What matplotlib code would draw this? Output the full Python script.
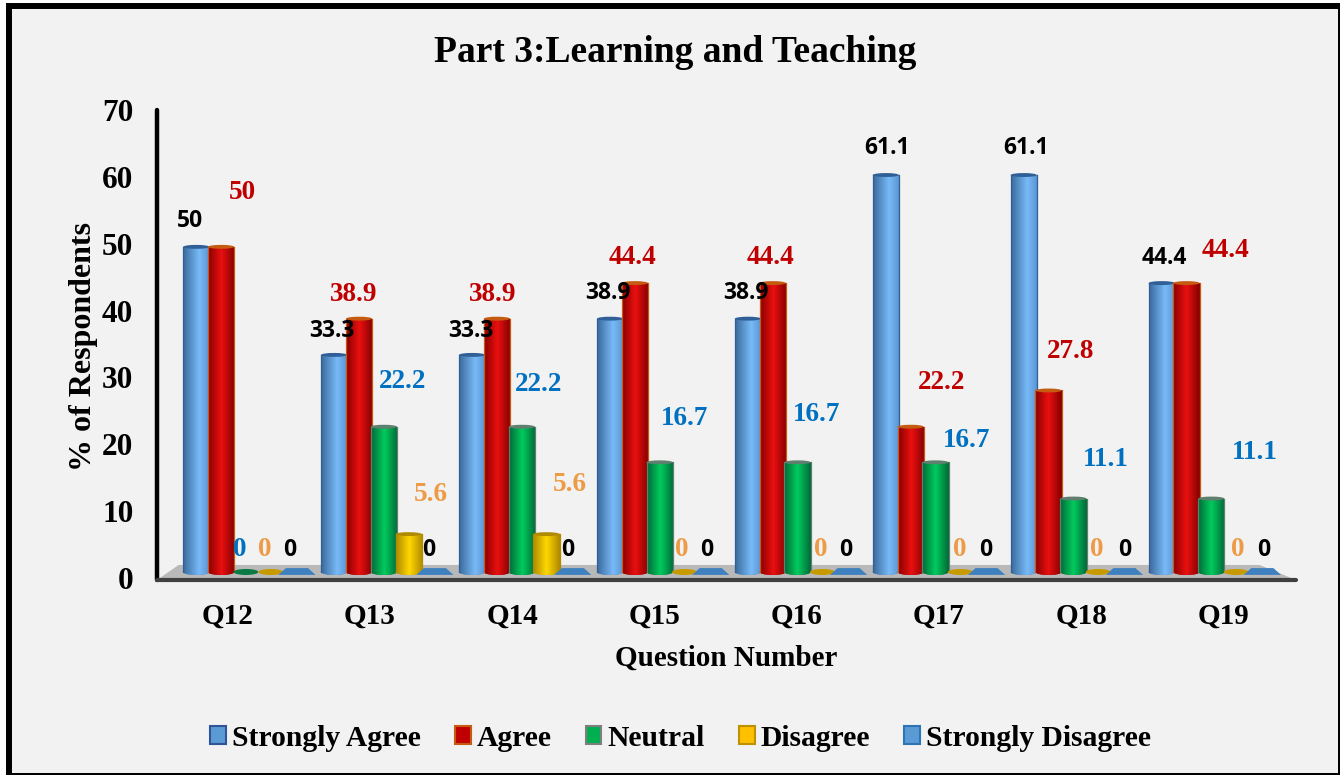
import numpy as np
import matplotlib
matplotlib.use('Agg')
import matplotlib.pyplot as plt
from matplotlib.colors import LinearSegmentedColormap
from matplotlib.patches import Ellipse, Patch, Polygon, Rectangle

questions = ['Q12', 'Q13', 'Q14', 'Q15', 'Q16', 'Q17', 'Q18', 'Q19']
series_names = ['Strongly Agree', 'Agree', 'Neutral', 'Disagree', 'Strongly Disagree']

strongly_agree = [50, 33.3, 33.3, 38.9, 38.9, 61.1, 61.1, 44.4]
agree = [50, 38.9, 38.9, 44.4, 44.4, 22.2, 27.8, 44.4]
neutral = [0, 22.2, 22.2, 16.7, 16.7, 16.7, 11.1, 11.1]
disagree = [0, 5.6, 5.6, 0, 0, 0, 0, 0]
strongly_disagree = [0, 0, 0, 0, 0, 0, 0, 0]
series_values = [strongly_agree, agree, neutral, disagree, strongly_disagree]
y_labels = ['0', '10', '20', '30', '40', '50', '60', '70']

# stops of each cylinder, left to right
gradients = [[(0, '#3a6a9c'), (0.6, '#78baf8'), (1, '#5a93d0')],
             [(0, '#8a0000'), (0.5, '#ea1010'), (1, '#840000')],
             [(0, '#006a38'), (0.5, '#00cc5e'), (1, '#006a38')],
             [(0, '#b08a00'), (0.5, '#ffd800'), (1, '#b08a00')]]
flat_colors = ['#4a86c8', '#c00000', '#0b7a45', '#c79a00', '#3f80bf']
top_colors = ['#2f5f96', '#c55a11', '#5f7f6f', '#b08a00']
legend_faces = ['#5b9bd5', '#c00000', '#00b050', '#ffc000', '#5b9bd5']
legend_edges = ['#2f5597', '#c55a11', '#7f7f7f', '#bf9000', '#2e75b6']

# data labels sit by hand in the original, so each one has its own offset (pixels)
label_colors = ['black', '#c00000', '#0070c0', '#ed9b47', 'black']
label_dx = [[-6, -2, -1, -2, -2, 1, 2, 3],
            [21, -5, -4, -2, -2, 31, 22, 39],
            [-6, 19, 17, 25, 19, 31, 32, 43],
            [-6, 22, 23, -3, -2, -1, -1, 2],
            [-7, -6, -5, -4, -3, -1, 0, 1]]
label_dy = [[27.5, 25.5, 25.5, 27, 27, 29, 29, 27],
            [55.5, 26, 26, 27, 27, 46, 41, 34],
            [22, 47, 44, 45, 49, 23, 41, 48],
            [22, 41, 51, 22, 22, 22, 22, 22],
            [22, 22, 22, 22, 22, 22, 22, 22]]

SERIF = 'Liberation Serif'
SANS = 'Open Sans'
W, H = 1340, 775
bar_width = 0.19
pitch = 0.18
cap = 0.93

fig = plt.figure(figsize=(W / 100, H / 100), dpi=100, facecolor='white')
# right and bottom edges of the frame are cropped in the original
fig.add_artist(Rectangle((9 / W, 1 - 776 / H), 1332 / W, 770 / H, transform=fig.transFigure,
                         facecolor='#f2f2f2', edgecolor='black', linewidth=4.3, zorder=-1))

ax = fig.add_axes([157 / W, 1 - 580 / H, 1139 / W, 470 / H])
ax.patch.set_alpha(0)

# floor of the 3D chart
ax.add_patch(Polygon([(0, 0), (0.019, 0.032), (0.968, 0.032), (1, 0)], transform=ax.transAxes,
                     facecolor='#b9b9b9', edgecolor='none', zorder=1))

x = np.arange(len(questions))
for s, values in enumerate(series_values):
    xs = x + (s - 2) * pitch
    if s == 4:
        xs = xs + 0.01
    z = 2 + s
    if s < 4:
        cmap = LinearSegmentedColormap.from_list('cyl', gradients[s])
        ax.bar(xs, values, bar_width, color=flat_colors[s], zorder=z)
    for xc, v, dx, dy in zip(xs, values, label_dx[s], label_dy[s]):
        if s == 4:
            # strongly disagree is all zeros, a flat tile on the floor
            ax.add_patch(Polygon([(xc - 0.135, -0.45), (xc + 0.135, -0.45),
                                  (xc + 0.08, 0.6), (xc - 0.08, 0.6)],
                                 facecolor=flat_colors[s], edgecolor='none', zorder=z))
        elif v == 0:
            ax.add_patch(Ellipse((xc, 0), bar_width * 0.95, cap, facecolor=flat_colors[s],
                                 edgecolor='none', zorder=z))
        else:
            base = Ellipse((xc, 0), bar_width, cap, facecolor=flat_colors[s], edgecolor='none', zorder=z)
            ax.add_patch(base)
            rect = Rectangle((xc - bar_width / 2, 0), bar_width, v + 0.25, transform=ax.transData)
            for clip in (rect, base):
                im = ax.imshow(np.linspace(0, 1, 64).reshape(1, -1), cmap=cmap, aspect='auto',
                               extent=(xc - bar_width / 2, xc + bar_width / 2, -cap, v + 0.25),
                               zorder=z + 0.1, interpolation='bilinear')
                im.set_clip_path(clip)
            ax.plot([xc + bar_width / 2] * 2, [0, v + 0.25], color=top_colors[s], lw=0.9, zorder=z + 0.15)
            ax.plot([xc - bar_width / 2] * 2, [0, v + 0.25], color=top_colors[s], lw=0.9, zorder=z + 0.15)
            ax.add_patch(Ellipse((xc, v + 0.25), bar_width, cap * 0.65, facecolor=top_colors[s],
                                 edgecolor='none', zorder=z + 0.2))
        txt = f'{v:g}'
        font = dict(family=SANS, size=16.5) if label_colors[s] == 'black' else dict(family=SERIF, size=19.5)
        ax.annotate(txt, (xc, v), xytext=(dx, dy), textcoords='offset pixels', ha='center', va='center',
                    color=label_colors[s], fontweight='bold', zorder=20, **font)

ax.set_xlim(-0.645, 7.614)
ax.set_ylim(-1.24, 71.4)

# the labels do not line up with the bars because of the perspective
ax.set_xticks(np.linspace(-0.135, 7.09, 8))
ax.set_xticklabels(questions, family=SERIF, fontweight='bold', fontsize=21)
ax.set_yticks(np.linspace(-0.93, 71.4, 8))
ax.set_yticklabels(y_labels, family=SERIF, fontweight='bold', fontsize=22.5)
ax.tick_params(axis='x', length=0, pad=16)
ax.tick_params(axis='y', length=0, pad=17)

for side in ('top', 'right'):
    ax.spines[side].set_visible(False)
ax.spines['left'].set_linewidth(3.2)
ax.spines['left'].set_capstyle('round')
ax.spines['bottom'].set_linewidth(3)
ax.spines['bottom'].set_color('#404040')
ax.spines['bottom'].set_capstyle('round')

fig.text(675 / W, 1 - 52 / H, 'Part 3:Learning and Teaching', family=SERIF, fontweight='bold',
         fontsize=27, ha='center', va='center')
fig.text(83 / W, 1 - 346 / H, '% of Respondents', family=SERIF, fontweight='bold', fontsize=23,
         rotation=90, ha='center', va='center')
fig.text(726 / W, 1 - 658 / H, 'Question Number', family=SERIF, fontweight='bold', fontsize=21,
         ha='center', va='center')

handles = [Patch(facecolor=f, edgecolor=e, linewidth=1.5) for f, e in zip(legend_faces, legend_edges)]
fig.legend(handles, series_names, loc='center', bbox_to_anchor=(680.5 / W, 1 - 738 / H), ncols=5,
           frameon=False, handlelength=0.53, handleheight=0.53, handletextpad=0.2, columnspacing=1.16,
           prop=dict(family=SERIF, weight='bold', size=21.3))

fig.savefig('out.png', dpi=100, facecolor=fig.get_facecolor())
